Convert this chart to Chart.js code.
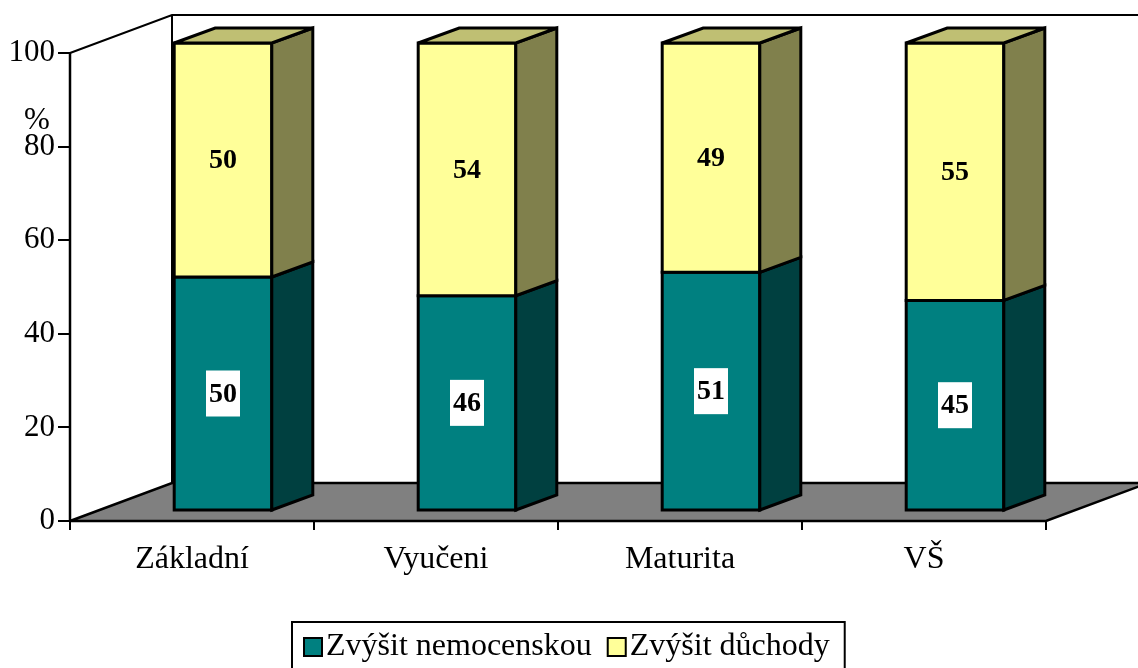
<!DOCTYPE html>
<html>
<head>
<meta charset="utf-8">
<script src="https://cdn.jsdelivr.net/npm/chart.js@4/dist/chart.umd.min.js"></script>
<style>
  html, body { margin: 0; padding: 0; background: #fff; }
  #wrap { width: 1138px; height: 668px; }
</style>
</head>
<body>
<div id="wrap"><canvas id="chart" width="1138" height="668"></canvas></div>
<script>
// Data
const categories = ['Základní', 'Vyučeni', 'Maturita', 'VŠ'];
const nemocenska = [50, 46, 51, 45];
const duchody = [50, 54, 49, 55];
const seriesNames = ['Zvýšit nemocenskou', 'Zvýšit důchody'];
const yTicks = [0, 20, 40, 60, 80, 100];

// Styles
const SERIF = "'Liberation Serif', 'Times New Roman', serif";
const faceColors = ['#008080', '#FFFF99'];
const sideColors = ['#004040', '#80804C'];
const topColors = ['#006060', '#BFBF73'];
const FLOOR = '#808080';

// 3D geometry (pixels)
const WALL_DX = 102, WALL_DY = -38;   // depth of the whole plot box
const BAR_DX = 31, BAR_DY = -10;      // where the bar fronts sit in depth
const BAR_DEPTH_X = 41, BAR_DEPTH_Y = -15;

function poly(ctx, pts, fill, lw) {
    ctx.beginPath();
    ctx.moveTo(pts[0][0], pts[0][1]);
    for (let i = 1; i < pts.length; i++) ctx.lineTo(pts[i][0], pts[i][1]);
    ctx.closePath();
    if (fill) { ctx.fillStyle = fill; ctx.fill(); }
    ctx.lineWidth = lw;
    ctx.strokeStyle = '#000';
    ctx.lineJoin = 'miter';
    ctx.miterLimit = 2;
    ctx.stroke();
}

const frame3d = {
    id: 'frame3d',
    beforeDatasetsDraw(chart) {
        const ctx = chart.ctx;
        const a = chart.chartArea;
        ctx.save();
        // back wall edges
        ctx.beginPath();
        ctx.moveTo(a.left, a.top);
        ctx.lineTo(a.left + WALL_DX, a.top + WALL_DY);
        ctx.lineTo(chart.width + 20, a.top + WALL_DY);
        ctx.moveTo(a.left + WALL_DX, a.top + WALL_DY);
        ctx.lineTo(a.left + WALL_DX, a.bottom + WALL_DY);
        ctx.lineWidth = 2;
        ctx.strokeStyle = '#000';
        ctx.miterLimit = 2;
        ctx.stroke();
        // floor
        poly(ctx, [
            [a.left, a.bottom], [a.right, a.bottom],
            [a.right + WALL_DX, a.bottom + WALL_DY], [a.left + WALL_DX, a.bottom + WALL_DY]
        ], FLOOR, 2.5);
        // value axis line
        ctx.beginPath();
        ctx.moveTo(a.left, a.top);
        ctx.lineTo(a.left, a.bottom + 1);
        ctx.lineWidth = 2.5;
        ctx.stroke();
        ctx.restore();
    },
    afterDatasetsDraw(chart) {
        const ctx = chart.ctx;
        ctx.save();
        const metas = [chart.getDatasetMeta(0), chart.getDatasetMeta(1)];
        categories.forEach((c, i) => {
            metas.forEach((meta, d) => {
                const el = meta.data[i];
                const w = el.width;
                const l = el.x - w / 2 + BAR_DX, r = el.x + w / 2 + BAR_DX;
                const t = el.y + BAR_DY, b = el.base + BAR_DY;
                // front
                poly(ctx, [[l, t], [r, t], [r, b], [l, b]], faceColors[d], 3);
                // side
                poly(ctx, [[r, t], [r + BAR_DEPTH_X, t + BAR_DEPTH_Y],
                    [r + BAR_DEPTH_X, b + BAR_DEPTH_Y], [r, b]], sideColors[d], 3);
                // top of the stack
                if (d === metas.length - 1) {
                    poly(ctx, [[l, t], [l + BAR_DEPTH_X, t + BAR_DEPTH_Y],
                        [r + BAR_DEPTH_X, t + BAR_DEPTH_Y], [r, t]], topColors[d], 3);
                }
            });
        });
        // data labels
        ctx.font = 'bold 28px ' + SERIF;
        ctx.textAlign = 'center';
        ctx.textBaseline = 'middle';
        categories.forEach((c, i) => {
            metas.forEach((meta, d) => {
                const el = meta.data[i];
                const cx = el.x + BAR_DX;
                const cy = (el.y + el.base) / 2 + BAR_DY;
                const val = chart.data.datasets[d].data[i];
                if (d === 0) {
                    ctx.fillStyle = '#fff';
                    ctx.fillRect(cx - 17, cy - 23, 34, 46);
                }
                ctx.fillStyle = '#000';
                ctx.fillText(String(val), cx, cy + 1);
            });
        });
        ctx.restore();
    },
    afterDraw(chart) {
        const ctx = chart.ctx;
        ctx.save();
        // unit label
        ctx.font = '31px ' + SERIF;
        ctx.fillStyle = '#000';
        ctx.textAlign = 'center';
        ctx.textBaseline = 'middle';
        ctx.fillText('%', 37, 121);

        // legend
        ctx.font = '32px ' + SERIF;
        const sq = 20, gapSq = 3, gapItem = 15, padL = 11, padR = 15;
        const w0 = ctx.measureText(seriesNames[0]).width;
        const w1 = ctx.measureText(seriesNames[1]).width;
        const total = padL + sq + gapSq + w0 + gapItem + sq + gapSq + w1 + padR;
        const bx = Math.round(568.5 - total / 2);
        const by = 622, cy = 647;
        ctx.lineWidth = 2;
        ctx.strokeStyle = '#000';
        ctx.strokeRect(bx, by, total, 70);
        let x = bx + padL;
        ctx.textAlign = 'left';
        [w0, w1].forEach((tw, d) => {
            ctx.fillStyle = faceColors[d];
            ctx.fillRect(x, cy - sq / 2, sq, sq);
            ctx.lineWidth = 2;
            ctx.strokeRect(x + 1, cy - sq / 2 + 1, sq - 2, sq - 2);
            x += sq + gapSq;
            ctx.fillStyle = '#000';
            ctx.fillText(seriesNames[d], x, cy);
            x += tw + gapItem;
        });
        ctx.restore();
    }
};

new Chart(document.getElementById('chart'), {
    type: 'bar',
    data: {
        labels: categories,
        datasets: [
            { label: seriesNames[0], data: nemocenska, backgroundColor: 'rgba(0,0,0,0)', borderWidth: 0 },
            { label: seriesNames[1], data: duchody, backgroundColor: 'rgba(0,0,0,0)', borderWidth: 0 }
        ]
    },
    options: {
        responsive: false,
        animation: false,
        devicePixelRatio: 1,
        layout: { padding: { left: 0, top: 53, right: 92, bottom: 0 } },
        datasets: { bar: { categoryPercentage: 1, barPercentage: 0.4 } },
        plugins: { legend: { display: false }, tooltip: { enabled: false } },
        scales: {
            x: {
                stacked: true,
                afterFit(s) { s.height = 147; },
                border: { display: false },
                grid: { offset: true, drawOnChartArea: false, drawTicks: true, tickLength: 9, color: '#000', lineWidth: 2 },
                ticks: { color: '#000', font: { family: SERIF, size: 32 }, padding: 10, maxRotation: 0 }
            },
            y: {
                stacked: true,
                min: 0,
                max: 100,
                afterFit(s) { s.width = 70; },
                afterBuildTicks(s) { s.ticks = yTicks.map(v => ({ value: v })); },
                border: { display: false },
                grid: { drawOnChartArea: false, drawTicks: true, tickLength: 12, color: '#000', lineWidth: 2 },
                ticks: { color: '#000', font: { family: SERIF, size: 31 }, padding: 3 }
            }
        }
    },
    plugins: [frame3d]
});
</script>
</body>
</html>
